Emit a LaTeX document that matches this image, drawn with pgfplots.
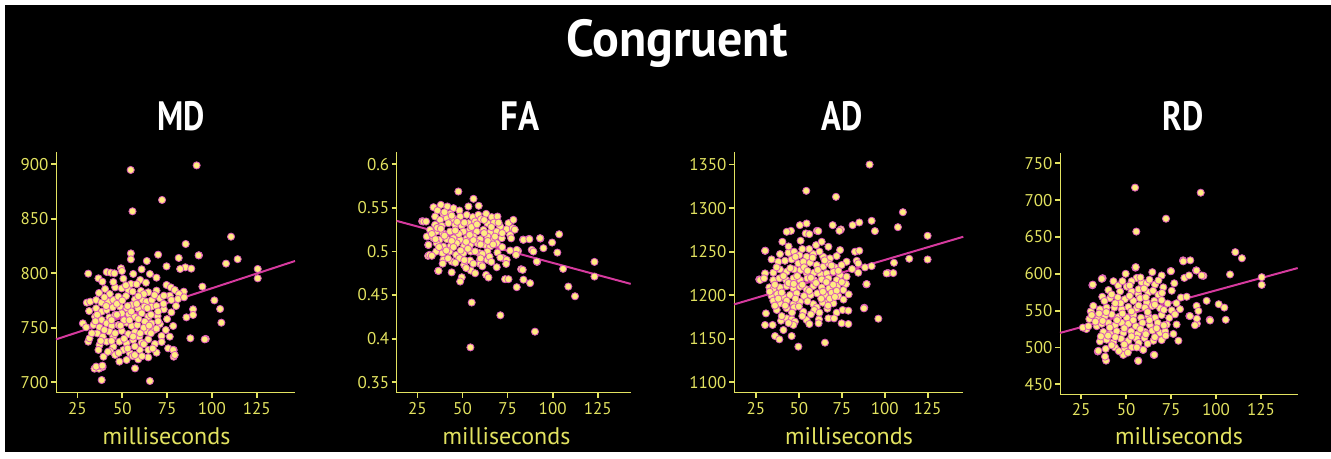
\documentclass[border=0pt]{standalone}
\usepackage{fontspec}
\setmainfont{PT Sans}
\usepackage{graphicx}
\usepackage{pgfplots}
\pgfplotsset{compat=1.18}
\definecolor{ylw}{RGB}{226,226,96}
\definecolor{ptfill}{RGB}{255,236,130}
\definecolor{ptedge}{RGB}{220,90,185}
\definecolor{lncol}{RGB}{214,58,158}
\pgfplotsset{
  panel/.style={
    scale only axis, anchor=south west, height=241pt,
    axis x line*=bottom, axis y line*=left,
    axis line style={-, ylw, line width=1pt},
    tick style={ylw, line width=1.8pt},
    major tick length=5pt, tick align=outside,
    xtick={25,50,75,100,125},
    ticklabel style={font=\fontsize{17}{17}\selectfont, text=ylw},
    xticklabel style={yshift=-1pt},
    yticklabel style={xshift=1pt},
    /pgf/number format/assume math mode=true,
    /pgf/number format/1000 sep={},
    clip=false,
  },
  pts/.style={only marks, mark=*, mark size=3.6pt,
    mark options={fill=ptfill, draw=ptedge, line width=0.8pt}},
  reg/.style={lncol, line width=2pt, no marks},
}
\begin{document}
\begin{tikzpicture}
\fill[white] (0pt,0pt) rectangle (1331pt,458pt);
\fill[black] (5pt,6pt) rectangle (1331pt,453pt);
\node[white, anchor=base] at (677pt,401pt) {\fontsize{52}{52}\selectfont\bfseries\scalebox{0.96}[1]{Congruent}};
\node[white, anchor=base] at (181pt,327pt) {\fontsize{41}{41}\selectfont\bfseries\scalebox{0.8}[1]{MD}};
\node[white, anchor=base] at (520pt,327pt) {\fontsize{41}{41}\selectfont\bfseries\scalebox{0.85}[1]{FA}};
\node[white, anchor=base] at (842pt,327pt) {\fontsize{41}{41}\selectfont\bfseries\scalebox{0.8}[1]{AD}};
\node[white, anchor=base] at (1183pt,327pt) {\fontsize{41}{41}\selectfont\bfseries\scalebox{0.8}[1]{RD}};
\foreach \cx in {166.5,506.5,849,1179}{
  \node[ylw, anchor=base] at (\cx pt,13pt) {\fontsize{24}{24}\selectfont milliseconds};
}
% ---------------- MD ----------------
\begin{axis}[panel, at={(56pt,65pt)}, width=239pt, xmin=13, xmax=146.4, ymin=690.2, ymax=911.3,
  ytick={700,750,800,850,900}]
\addplot[pts] table {
x y
54.7 894.8
91.5 899
55.7 856.9
72.2 867.3
110.7 833.6
85.4 826.9
125.6 804
125.6 795.4
114.4 813
107.9 808.9
92.8 816.5
101.4 775.2
104.6 767.3
105.3 754.7
96.6 739.8
78.7 729.7
78.7 723.5
31 737.3
34.5 712.5
37 712.5
39 714
54.8 818.3
54.8 812.8
70.0 817.1
81.5 814.1
92.6 816.5
63.7 811.3
74.7 806.4
85.2 805.5
88.5 804.3
82.3 804.0
31.0 799.7
41.3 801.2
43.5 800.6
45.6 800.0
49.3 804.6
49.8 802.1
56.1 799.4
60.8 803.7
65.4 799.4
69.1 796.0
36.7 795.4
38.9 792.3
50.6 795.1
54.8 790.2
60.0 793.9
63.2 791.4
40.4 785.6
46.0 787.1
49.7 786.2
53.4 784.7
55.8 783.2
60.4 783.8
64.5 782.6
69.1 784.1
74.7 789.3
77.1 787.1
79.3 784.7
84.3 783.2
81.7 781.0
94.7 787.8
76.5 779.5
30.2 773.1
32.1 774.0
35.4 775.5
38.4 773.1
42.3 774.0
45.0 775.5
47.8 778.6
52.1 779.2
57.1 776.1
61.3 775.5
63.5 774.0
66.5 775.5
71.0 777.1
73.2 779.5
77.4 775.5
81.1 776.4
84.5 778.0
31.5 765.4
35.4 767.9
38.5 764.8
41.3 766.4
44.7 768.8
48.7 769.4
52.4 767.9
55.2 770.9
58.9 767.9
62.3 769.4
66.3 769.4
69.1 770.0
73.2 767.0
77.4 764.2
89.5 767.0
85.8 759.6
89.5 761.8
34.8 760.2
38.5 757.2
42.8 759.6
46.0 761.8
49.7 763.3
53.7 762.4
56.9 760.2
60.8 763.3
64.5 760.2
69.7 760.8
28.0 754.1
29.8 750.5
33.9 752.6
37.3 750.5
41.3 754.1
44.1 751.7
47.8 752.6
52.4 754.7
55.2 751.7
58.4 752.6
62.6 755.7
66.3 754.1
71.0 753.5
74.3 748.0
78.4 751.7
31.7 740.4
36.1 744.9
39.1 741.9
42.8 746.5
45.0 741.9
49.7 747.1
53.4 744.3
57.1 746.2
59.5 741.9
63.9 746.5
67.8 748.0
69.1 749.2
71.9 742.5
76.5 741.9
88.0 740.4
96.0 739.4
37.3 734.2
41.3 737.3
45.0 732.7
48.4 737.3
52.4 735.8
56.1 738.8
60.8 736.4
64.5 739.4
68.2 735.2
75.6 731.2
78.4 729.7
36.7 729.7
39.5 723.5
43.2 728.7
46.0 725.1
50.6 729.7
54.3 726.6
59.8 729.7
64.5 729.7
69.1 727.2
79.3 725.1
35.4 714.4
38.9 715.3
48.4 719.0
52.4 720.5
55.8 724.1
58.9 721.1
64.5 722.9
38.5 702.1
57.1 712.8
65.4 701.2
43 781
47 772
51 757
55 765
59 758
62 750
46 745
51 740
57 733
62 735
66 745
70 765
73 772
68 780
58 790
52 789
45 792
40 778
36 762
33 745
40 748
44 738
48 727
53 731
57 725
61 724
67 731
72 737
75 758
80 770
42 728
38 738
35 756
50 775
54 757
58 772
62 781
66 762
70 756
47 762
44 757
60 745
65 752
56 742
49 752
53 770
64 768
41 770
37 782
59 779
};
\addplot[reg] coordinates {(13,739.4) (146.4,811.3)};
\end{axis}
% ---------------- FA ----------------
\begin{axis}[panel, at={(396.7pt,65pt)}, width=234pt, xmin=13.5, xmax=143.3, ymin=0.3377, ymax=0.614,
  ytick={0.35,0.4,0.45,0.5,0.55,0.6}]
\addplot[pts] table {
x y
54.4 0.390
90.2 0.408
71 0.4268
55.1 0.4414
112.4 0.4486
108.7 0.4597
123.2 0.488
123.2 0.4712
105.8 0.48
103.6 0.5197
102.6 0.4987
99.7 0.5102
93.2 0.5148
91.4 0.488
86.9 0.5144
83.6 0.5136
80.8 0.5006
27.6 0.5346
30.9 0.4949
31 0.5075
30.9 0.5172
36.5 0.4777
47.7 0.5687
56.1 0.5603
59.0 0.5523
53.3 0.5515
33.9 0.5507
38.0 0.5534
41.6 0.5515
45.0 0.5496
48.3 0.5469
36.1 0.5469
39.4 0.5431
43.1 0.5431
34.8 0.5400
37.6 0.5362
41.3 0.5381
45.0 0.5370
48.7 0.5400
52.4 0.5419
55.7 0.5393
58.8 0.5419
63.1 0.5431
66.2 0.5393
69.4 0.5400
75.5 0.5324
78.2 0.5362
28.3 0.5343
29.8 0.5343
34.8 0.5305
38.5 0.5293
42.2 0.5324
45.9 0.5305
49.6 0.5293
53.3 0.5324
57.0 0.5343
60.3 0.5370
63.8 0.5324
67.5 0.5331
70.9 0.5286
32.0 0.5247
35.4 0.5228
39.1 0.5209
43.1 0.5228
47.2 0.5209
50.5 0.5228
54.2 0.5255
57.9 0.5228
61.6 0.5247
65.3 0.5217
69.0 0.5228
74.5 0.5255
77.9 0.5266
76.4 0.5190
30.2 0.5171
33.9 0.5152
37.2 0.5133
41.3 0.5140
45.0 0.5152
48.7 0.5133
52.4 0.5152
56.1 0.5171
59.8 0.5140
63.8 0.5171
67.2 0.5133
71.8 0.5152
83.8 0.5133
87.1 0.5140
93.0 0.5152
31.1 0.5075
35.7 0.5094
39.4 0.5056
43.5 0.5064
46.8 0.5094
50.9 0.5064
54.2 0.5075
58.3 0.5094
62.5 0.5075
65.3 0.5056
69.0 0.5094
76.4 0.5010
80.1 0.5018
88.4 0.5018
94.9 0.5037
31.7 0.4961
35.4 0.4999
38.9 0.4980
42.8 0.4999
46.5 0.4961
50.5 0.4980
54.6 0.4999
59.4 0.4980
63.8 0.4999
69.4 0.4987
72.7 0.4922
74.5 0.4903
79.7 0.4961
89.3 0.4999
91.2 0.4884
39.4 0.4903
44.1 0.4884
48.3 0.4922
54.2 0.4896
59.8 0.4903
63.8 0.4903
69.0 0.4819
74.2 0.4857
82.5 0.4796
83.4 0.4789
36.7 0.4777
50.9 0.4846
54.6 0.4781
59.8 0.4857
49.6 0.4704
48.7 0.4655
63.1 0.4731
64.4 0.4701
73.6 0.4682
75.5 0.4682
80.1 0.4590
83.8 0.4676
87.5 0.4636
40 0.545
44 0.541
47 0.534
51 0.533
55 0.528
58 0.531
62 0.536
66 0.528
70 0.533
36 0.527
40 0.518
44 0.512
48 0.520
52 0.511
56 0.513
60 0.508
64 0.512
68 0.517
72 0.521
33 0.520
37 0.505
41 0.501
45 0.505
49 0.501
53 0.503
57 0.500
61 0.497
65 0.494
42 0.492
46 0.487
51 0.490
56 0.486
60 0.492
66 0.488
71 0.493
35 0.514
38 0.526
46 0.524
54 0.519
62 0.521
67 0.508
72 0.505
77 0.515
79 0.525
44 0.476
52 0.481
57 0.475
61 0.483
39 0.486
33 0.495
};
\addplot[reg] coordinates {(13.5,0.535) (143.3,0.4628)};
\end{axis}
% ---------------- AD ----------------
\begin{axis}[panel, at={(734pt,65pt)}, width=229.3pt, xmin=12.2, xmax=145.8, ymin=1087.7, ymax=1364.4,
  ytick={1100,1150,1200,1250,1300,1350}]
\addplot[pts] table {
x y
91.2 1350
54.3 1319.8
71.6 1312.9
110.6 1295.3
92.4 1285.4
107.7 1278.1
85.2 1283.5
81.3 1280.4
69.7 1280.4
74.5 1275.5
125 1268.2
125 1241
114.3 1241.8
105.4 1237.2
102 1225.4
105 1225.4
88.1 1185.6
89.3 1212.4
30.4 1251
26.9 1218.1
50.6 1280.4
54.5 1282.3
45.4 1273.9
60.5 1273.9
42.9 1272.8
54.0 1270.9
56.1 1270.1
61.3 1273.6
73.6 1273.9
94.3 1273.6
40.4 1261.3
51.0 1262.5
60.0 1257.5
63.3 1261.3
67.2 1255.6
74.0 1251.8
82.7 1249.9
85.2 1251.0
30.3 1251.0
39.0 1247.2
43.9 1248.7
47.2 1249.9
50.3 1246.0
54.5 1244.1
58.4 1247.2
64.2 1244.1
68.1 1242.2
72.0 1244.9
77.8 1238.4
83.7 1239.5
84.6 1236.5
34.1 1241.1
38.0 1238.4
41.9 1239.5
45.8 1241.1
49.7 1236.5
52.6 1238.4
56.5 1237.2
60.4 1234.6
64.2 1232.7
67.2 1236.5
71.0 1231.9
74.9 1234.6
88.5 1231.9
92.4 1233.4
30.3 1225.0
35.1 1225.8
39.0 1229.6
42.9 1226.9
47.2 1229.6
51.0 1228.8
54.5 1225.8
58.8 1225.8
62.7 1223.9
66.2 1225.0
70.1 1226.9
74.0 1223.1
77.8 1221.2
101.1 1225.0
84.6 1225.8
27.4 1217.4
29.7 1219.3
35.1 1217.4
38.6 1219.3
42.5 1217.4
46.8 1219.3
50.7 1217.4
54.9 1219.3
58.8 1217.4
63.3 1218.1
67.2 1219.3
72.0 1217.4
77.4 1212.8
89.5 1212.8
32.8 1209.0
35.1 1206.7
39.0 1209.0
42.9 1210.5
46.8 1207.8
50.7 1209.7
54.5 1206.7
58.4 1210.5
63.3 1209.0
67.7 1207.8
72.4 1210.5
75.9 1205.9
34.1 1199.0
37.4 1201.3
40.9 1198.2
44.8 1200.2
48.7 1202.1
53.0 1199.0
56.9 1200.2
60.7 1202.1
65.2 1200.2
69.1 1202.8
73.0 1199.0
35.1 1193.7
39.0 1190.6
42.9 1193.7
46.8 1189.8
50.7 1192.5
58.4 1189.8
63.9 1191.4
67.2 1193.7
70.1 1190.6
30.8 1179.1
37.1 1183.0
42.9 1184.9
47.2 1186.0
52.6 1181.0
60.4 1186.0
66.6 1184.5
72.0 1179.9
75.5 1183.0
78.8 1182.2
87.9 1184.9
30.3 1165.8
34.7 1165.8
39.6 1170.7
42.9 1173.4
45.8 1172.3
47.7 1169.6
46.8 1165.8
54.5 1171.5
56.1 1166.9
61.7 1172.3
67.2 1173.4
70.5 1173.4
74.9 1167.7
78.8 1166.9
96.3 1173.0
36.1 1153.1
38.6 1149.3
41.0 1160.0
45.8 1153.1
61.5 1167.7
49.7 1140.9
65.2 1145.5
37 1232
41 1222
45 1231
49 1222
53 1232
57 1220
61 1229
65 1240
69 1234
73 1228
36 1212
40 1203
44 1214
48 1196
52 1212
56 1205
60 1214
64 1204
68 1196
72 1205
38 1196
42 1188
46 1180
50 1187
55 1193
59 1183
63 1196
67 1188
71 1198
76 1195
33 1204
36 1188
40 1176
44 1168
52 1176
57 1178
62 1180
48 1244
56 1253
62 1250
44 1256
52 1253
58 1243
70 1212
75 1215
79 1201
81 1230
66 1215
47 1213
55 1228
};
\addplot[reg] coordinates {(12.2,1189.4) (145.8,1267.1)};
\end{axis}
% ---------------- RD ----------------
\begin{axis}[panel, at={(1060pt,64pt)}, width=237.7pt, xmin=13.3, xmax=145.4, ymin=436.8, ymax=764,
  ytick={450,500,550,600,650,700,750}]
\addplot[pts] table {
x y
55 717
91.5 710.1
72.2 674.8
55.7 657.3
110.7 629.4
114.4 621.1
81.7 618.3
85.7 618.3
107.8 599.1
88.9 604.6
93 597.2
125.4 595.4
125.4 584.9
74.8 603.7
55.2 608.3
31.3 584.4
37 594
101.5 558.7
104.6 554.1
105.4 537.6
96.5 537.6
89.4 532.3
89.4 539
85.2 542.7
28 525
29.6 538.6
30.4 549
26 527
56.7 482.1
65.4 489.9
38.9 482.1
48.3 490.8
59.4 496.8
34.3 494.5
55.4 609.1
49.8 600.0
55.9 594.4
53.1 589.9
64.6 602.2
69.8 597.7
75.0 603.6
82.4 594.4
85.0 597.7
89.2 604.5
92.0 597.7
81.8 616.9
36.5 593.1
43.0 589.9
45.7 583.9
50.4 582.5
58.7 588.5
61.5 587.1
66.1 585.3
31.5 585.3
70.7 581.6
76.8 587.1
40.2 577.9
46.7 576.1
53.1 576.1
56.8 572.4
62.4 574.7
68.0 571.5
75.4 577.0
80.5 567.8
83.7 568.8
36.8 568.8
41.1 566.9
45.4 567.8
49.4 565.5
54.1 563.3
57.8 566.9
61.5 561.0
65.7 563.3
69.8 564.2
73.1 559.6
94.8 563.3
89.2 556.4
31.8 556.4
35.5 551.8
39.2 554.1
43.5 554.1
47.6 551.8
51.3 555.0
55.9 553.2
60.5 554.1
64.6 556.4
68.9 553.2
75.4 550.4
90.2 549.5
30.9 544.0
34.6 540.3
38.3 542.6
42.0 544.9
45.7 541.2
50.4 540.3
54.1 544.0
58.3 540.3
62.4 542.6
66.1 540.3
69.8 544.0
77.2 544.9
85.5 542.6
29.1 528.9
33.7 528.9
36.5 532.1
40.2 533.4
43.9 530.2
47.6 533.4
51.3 532.1
55.4 528.9
59.1 533.4
63.3 530.2
67.6 533.4
72.6 531.1
78.1 531.1
88.3 530.2
96.7 536.6
37.4 521.1
41.1 518.3
44.8 522.0
48.5 519.7
52.8 522.0
56.5 518.3
60.5 521.1
64.6 522.9
68.9 519.7
71.7 522.0
76.3 518.3
35.5 508.2
39.2 510.5
43.0 507.3
47.2 511.9
51.3 509.1
55.9 511.9
60.2 512.8
65.2 509.1
69.8 510.0
79.1 509.1
34.6 495.4
38.7 498.1
43.9 500.0
49.1 498.1
53.1 500.0
59.6 496.7
65.7 489.9
48.5 489.9
56.8 481.6
38.3 487.6
38 563
42 572
47 560
52 570
57 579
61 568
65 577
70 574
35 546
39 548
44 560
48 546
53 549
57 557
62 548
66 558
71 551
74 540
37 536
41 527
45 537
49 526
54 537
58 525
63 537
67 526
71 530
40 516
44 514
49 504
53 515
57 506
61 518
66 514
72 516
46 495
51 493
56 500
62 505
42 503
36 515
33 535
52 584
48 590
58 595
63 592
60 580
68 591
78 560
80 552
};
\addplot[reg] coordinates {(13.3,519.7) (145.4,607.8)};
\end{axis}
\end{tikzpicture}
\end{document}
